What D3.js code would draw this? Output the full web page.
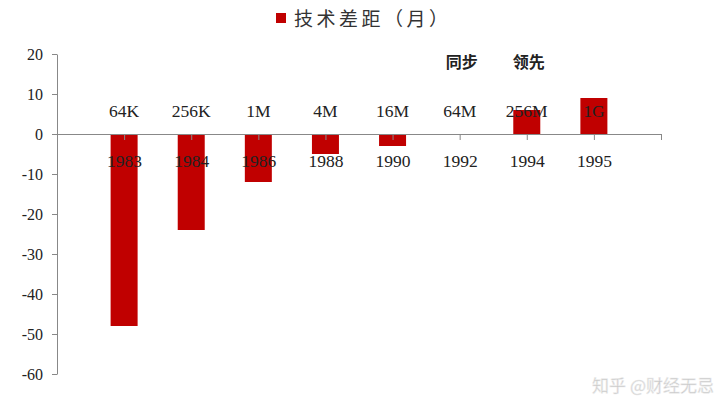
<!DOCTYPE html>
<html><head><meta charset="utf-8">
<script src="https://cdn.jsdelivr.net/npm/d3@7"></script>
<style>body{margin:0;background:#fff}</style>
</head><body>
<svg id="c" width="720" height="415"></svg>
<script>
const years = ["1983","1984","1986","1988","1990","1992","1994","1995"];
const chips = ["64K","256K","1M","4M","16M","64M","256M","1G"];
const gapMonths = [-48,-24,-12,-5,-3,0,6,9];
const yTicks = [-60,-50,-40,-30,-20,-10,0,10,20];
const seriesName = "技术差距（月）";
const notes = [{text:"同步", at:"1992"},{text:"领先", at:"1994"}];

const svg = d3.select("#c");
const serif = "'Liberation Serif','Times New Roman',serif";
const x = d3.scalePoint().domain(["_s", ...years, "_e"]).range([57, 661]);
const y = d3.scaleLinear().domain([-60, 20]).range([374, 54]);
const bw = 27;

// bars
svg.append("g").selectAll("rect").data(years).join("rect")
  .attr("x", d => x(d) - bw/2)
  .attr("width", bw)
  .attr("y", (d,i) => y(Math.max(0, gapMonths[i])))
  .attr("height", (d,i) => Math.abs(y(gapMonths[i]) - y(0)))
  .attr("fill", "#C00000");

// y axis
const ya = svg.append("g").attr("transform", "translate(57,0)")
  .call(d3.axisLeft(y).tickValues(yTicks).tickSize(5).tickPadding(9).tickSizeOuter(0)
        .tickFormat(d => String(d)));
ya.select(".domain").attr("stroke", "#888");
ya.selectAll(".tick line").attr("stroke", "#888");
ya.selectAll("text").attr("font-family", serif).attr("font-size", 16).attr("fill", "#222");

// x axis
const xa = svg.append("g").attr("transform", `translate(0,${y(0)})`)
  .call(d3.axisBottom(x).tickValues([...years, "_e"]).tickSize(6).tickPadding(15)
        .tickFormat(d => d === "_e" ? "" : d).tickSizeOuter(0));
xa.select(".domain").attr("stroke", "#888");
xa.selectAll(".tick line").attr("stroke", "#888");
xa.selectAll("text").attr("font-family", serif).attr("font-size", 17.5).attr("fill", "#222");

// chip labels
svg.append("g").selectAll("text").data(chips).join("text")
  .attr("x", (d,i) => x(years[i]))
  .attr("y", 117)
  .attr("text-anchor", "middle")
  .attr("font-family", serif).attr("font-size", 17.5).attr("fill", "#222")
  .text(d => d);

// notes
svg.append("g").selectAll("text").data(notes).join("text")
  .attr("x", d => x(d.at) + 2)
  .attr("y", 68)
  .attr("text-anchor", "middle")
  .attr("font-family", "'Noto Sans CJK SC'").attr("font-weight", "bold").attr("font-size", 16).attr("fill", "#222")
  .text(d => d.text);

// legend
svg.append("rect").attr("x", 276).attr("y", 13).attr("width", 10).attr("height", 10).attr("fill", "#C00000");
svg.append("text").attr("x", 294).attr("y", 26)
  .attr("font-family", "'Noto Sans CJK SC'").attr("font-size", 19).attr("letter-spacing", 3.5).attr("fill", "#333")
  .text(seriesName);

// watermark
svg.append("text").attr("x", 714).attr("y", 392).attr("text-anchor", "end")
  .attr("font-family", "'Noto Sans CJK SC'").attr("font-size", 17).attr("fill", "#c8c8c8")
  .attr("stroke", "#eee").attr("stroke-width", 0.5)
  .text("知乎 @财经无忌");
</script>
</body></html>
